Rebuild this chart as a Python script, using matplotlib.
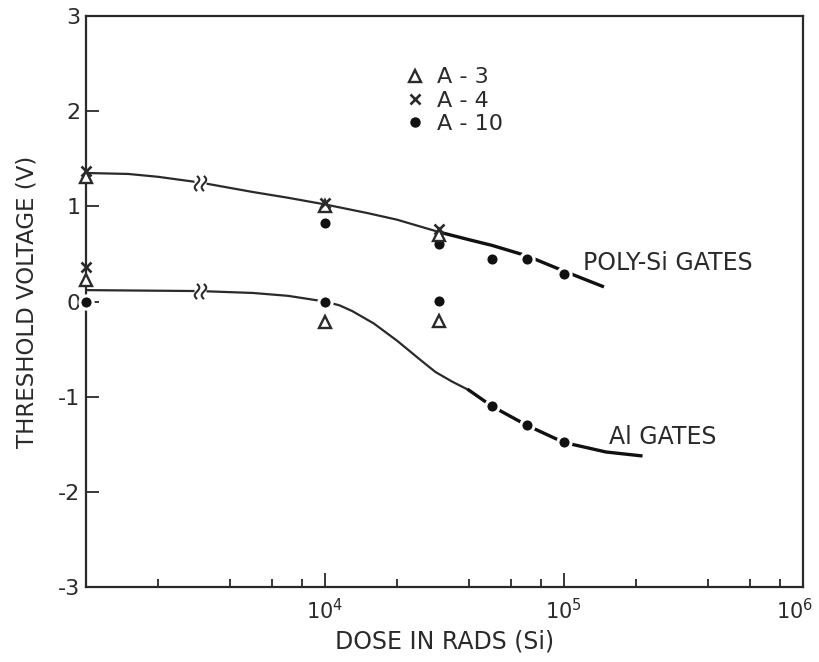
import numpy as np
import matplotlib
matplotlib.use("Agg")
import matplotlib.pyplot as plt
import matplotlib.transforms as mtransforms
from matplotlib.lines import Line2D
from matplotlib.path import Path

plt.rcParams['font.family'] = ['DejaVu Sans']
plt.rcParams['axes.unicode_minus'] = False
INK = "#2a2a2a"

# zero dose points are drawn on the left axis (x = 1e3)
ZERO = 1e3

# measured points (dose in rads, threshold voltage in V)
poly_a3_dose = [ZERO, 1e4, 3e4]
poly_a3_v = [1.31, 1.00, 0.70]
poly_a4_dose = [ZERO, 1e4, 3e4]
poly_a4_v = [1.37, 1.03, 0.76]
poly_a10_dose = [1e4, 3e4, 5e4, 7e4, 1e5]
poly_a10_v = [0.82, 0.60, 0.45, 0.45, 0.29]

al_a3_dose = [ZERO, 1e4, 3e4]
al_a3_v = [0.23, -0.22, -0.20]
al_a4_dose = [ZERO]
al_a4_v = [0.36]
al_a10_dose = [ZERO, 1e4, 3e4, 5e4, 7e4, 1e5]
al_a10_v = [0.0, 0.0, 0.01, -1.10, -1.30, -1.48]

# hand drawn curves
poly_curve_dose = [1e3, 1.5e3, 2e3, 3e3, 5e3, 7e3, 1e4, 1.5e4, 2e4, 3e4]
poly_curve_v = [1.35, 1.34, 1.31, 1.25, 1.15, 1.09, 1.02, 0.93, 0.86, 0.73]
poly_tail_dose = [3e4, 4e4, 5e4, 7e4, 1e5, 1.45e5]
poly_tail_v = [0.73, 0.65, 0.59, 0.48, 0.32, 0.16]

al_curve_dose = [1e3, 3e3, 5e3, 7e3, 1e4, 1.15e4, 1.3e4, 1.6e4, 2e4, 2.5e4, 2.9e4, 3.4e4, 4e4]
al_curve_v = [0.12, 0.11, 0.09, 0.06, 0.0, -0.04, -0.10, -0.23, -0.41, -0.61, -0.74, -0.84, -0.93]
al_tail_dose = [4e4, 5e4, 7e4, 1e5, 1.5e5, 2.1e5]
al_tail_v = [-0.93, -1.10, -1.30, -1.48, -1.58, -1.62]

break_dose = 3e3

fig = plt.figure(figsize=(8.2, 6.62), dpi=100)
ax = fig.add_axes([0.105, 0.113, 0.874, 0.863])
ax.set_xscale('log')
ax.set_xlim(1e3, 1e6)
ax.set_ylim(-3, 3)

# curves
ax.plot(poly_curve_dose, poly_curve_v, color=INK, lw=1.6, zorder=2)
ax.plot(poly_tail_dose, poly_tail_v, color="#111111", lw=2.4, zorder=2)
ax.plot(al_curve_dose, al_curve_v, color=INK, lw=1.6, zorder=2)
ax.plot(al_tail_dose, al_tail_v, color="#111111", lw=2.4, zorder=2)

# axis break marks (two small S strokes) on both curves
t = np.linspace(-1, 1, 25)
verts, codes = [], []
for off in (-0.45, 0.45):
    verts += [(off + 0.3 * np.sin(np.pi * tt), tt) for tt in t]
    codes += [Path.MOVETO] + [Path.LINETO] * (len(t) - 1)
break_marker = Path(verts, codes)
for curve_d, curve_v in [(poly_curve_dose, poly_curve_v), (al_curve_dose, al_curve_v)]:
    v = np.interp(np.log10(break_dose), np.log10(curve_d), curve_v)
    ax.plot([break_dose], [v], marker='s', ms=8, mfc='white', mec='none', ls='none', zorder=3)
    ax.plot([break_dose], [v], marker=break_marker, ms=11, mfc='none', mec=INK, mew=1.5,
            ls='none', zorder=3.5)

tri = dict(marker='^', ms=9, mfc='white', mec=INK, mew=1.7, ls='none', zorder=5, clip_on=False)
crs = dict(marker='x', ms=7, mec=INK, mew=1.9, ls='none', zorder=6, clip_on=False)
dot = dict(marker='o', ms=9.5, mfc="#111111", mec='white', mew=2.2, ls='none', zorder=4, clip_on=False)

ax.plot(poly_a3_dose, poly_a3_v, **tri)
ax.plot(poly_a4_dose, poly_a4_v, **crs)
ax.plot(poly_a10_dose, poly_a10_v, **dot)
ax.plot(al_a3_dose, al_a3_v, **tri)
ax.plot(al_a4_dose, al_a4_v, **crs)
ax.plot(al_a10_dose, al_a10_v, **dot)

ax.text(1.2e5, 0.41, "POLY-Si GATES", fontsize=17, color=INK, va='center')
ax.text(1.55e5, -1.42, "Al GATES", fontsize=17, color=INK, va='center')

handles = [
    Line2D([0], [0], marker='^', ms=9, mfc='white', mec=INK, mew=1.7, ls='none', label='A - 3'),
    Line2D([0], [0], marker='x', ms=7, mec=INK, mew=1.9, ls='none', label='A - 4'),
    Line2D([0], [0], marker='o', ms=6.5, mfc="#111111", mec="#111111", ls='none', label='A - 10'),
]
ax.legend(handles=handles, loc='upper left', bbox_to_anchor=(0.415, 0.945), frameon=False,
          fontsize=16, handletextpad=0.5, labelspacing=0.15, handlelength=1.0,
          labelcolor=INK)

# axes styling
for s in ax.spines.values():
    s.set_linewidth(1.6)
    s.set_color(INK)

ax.set_xticks([1e4, 1e5, 1e6])
ax.set_xticklabels([r"10$^4$", r"10$^5$", r"10$^6$"])
minor = [m * 10**e for e in (3, 4, 5) for m in (2, 4, 6, 8)]
ax.set_xticks(minor, minor=True)
ax.set_xticklabels([], minor=True)
ax.set_yticks([-3, -2, -1, 0, 1, 2, 3])
ax.tick_params(axis='x', which='major', direction='in', length=10, width=1.3, color=INK,
               labelsize=15, labelcolor=INK, pad=8)
ax.tick_params(axis='x', which='minor', direction='in', length=6, width=1.3, color=INK)
ax.tick_params(axis='y', direction='in', length=9.5, width=1.3, color=INK,
               labelsize=16, labelcolor=INK, pad=4)

# keep the 10^6 label inside the figure
last = ax.get_xticklabels()[-1]
last.set_transform(last.get_transform() + mtransforms.ScaledTranslation(-6 / 72, 0, fig.dpi_scale_trans))

ax.set_xlabel("DOSE IN RADS (Si)", fontsize=17, color=INK, labelpad=4)
ax.set_ylabel("THRESHOLD VOLTAGE (V)", fontsize=16.5, color=INK, labelpad=14)

fig.savefig("out.png", dpi=100)
